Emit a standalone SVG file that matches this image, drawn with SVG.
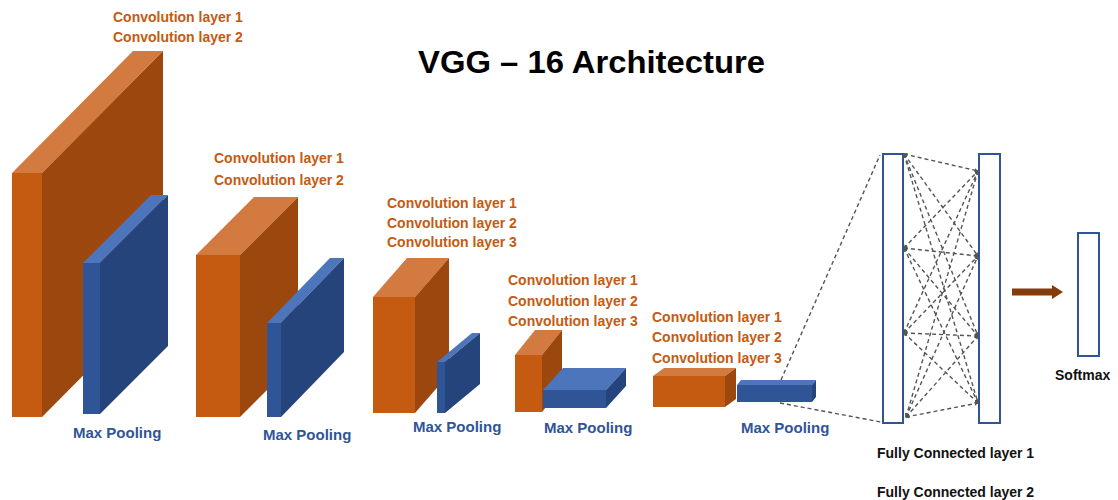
<svg xmlns="http://www.w3.org/2000/svg" width="1118" height="500" viewBox="0 0 1118 500">
  <style>
    .of { fill: #C55A11; }
    .os { fill: #9B470D; }
    .ot { fill: #D27A3F; }
    .bf { fill: #2F5597; }
    .bs { fill: #25447C; }
    .bt { fill: #4C75BC; }
    .conv { font-family: "Liberation Sans", Arial, sans-serif; font-weight: bold; font-size: 14px; fill: #C55A11; }
    .pool { font-family: "Liberation Sans", Arial, sans-serif; font-weight: bold; font-size: 15px; fill: #2F5597; }
    .dark { font-family: "Liberation Sans", Arial, sans-serif; font-weight: bold; font-size: 14px; fill: #111111; }
    .title { font-family: "Liberation Sans", Arial, sans-serif; font-weight: bold; font-size: 32px; fill: #000000; }
    .fc { fill: #ffffff; stroke: #2F5597; stroke-width: 2; }
    .dash { fill: none; stroke: #555555; stroke-width: 1.4; stroke-dasharray: 4 3; }
  </style>
  <defs>
    <marker id="tip" viewBox="0 0 6 6" refX="5" refY="3" markerWidth="3" markerHeight="3" orient="auto-start-reverse">
      <path d="M0,0 L6,3 L0,6 z" fill="#555555"/>
    </marker>
  </defs>
  <rect width="1118" height="500" fill="#ffffff"/>

  <text class="title" x="418" y="73" textLength="347" lengthAdjust="spacingAndGlyphs">VGG – 16 Architecture</text>

  <!-- Stage 1 -->
  <g id="conv-block-1">
    <polygon class="ot" points="12,173 133,51 163,51 42,173"/>
    <polygon class="os" points="42,173 163,51 163,295 42,417"/>
    <rect class="of" x="12" y="173" width="30" height="244"/>
    <text class="conv" x="113" y="22">Convolution layer 1</text>
    <text class="conv" x="113" y="42">Convolution layer 2</text>
  </g>
  <g id="pool-1">
    <polygon class="bt" points="83,263 151,195 168,195 100,263"/>
    <polygon class="bs" points="100,263 168,195 168,346 100,414"/>
    <rect class="bf" x="83" y="263" width="17" height="151"/>
    <text class="pool" x="73" y="438">Max Pooling</text>
  </g>

  <!-- Stage 2 -->
  <g id="conv-block-2">
    <polygon class="ot" points="196,255 254,197 298,197 240,255"/>
    <polygon class="os" points="240,255 298,197 298,359 240,417"/>
    <rect class="of" x="196" y="255" width="44" height="162"/>
    <text class="conv" x="214" y="163">Convolution layer 1</text>
    <text class="conv" x="214" y="185">Convolution layer 2</text>
  </g>
  <g id="pool-2">
    <polygon class="bt" points="267,323 330,258 344,258 281,323"/>
    <polygon class="bs" points="281,323 344,258 344,352 281,417"/>
    <rect class="bf" x="267" y="323" width="14" height="94"/>
    <text class="pool" x="263" y="440">Max Pooling</text>
  </g>

  <!-- Stage 3 -->
  <g id="conv-block-3">
    <polygon class="ot" points="373,297 407,258 449,258 415,297"/>
    <polygon class="os" points="415,297 449,258 449,374 415,413"/>
    <rect class="of" x="373" y="297" width="42" height="116"/>
    <text class="conv" x="387" y="208">Convolution layer 1</text>
    <text class="conv" x="387" y="228">Convolution layer 2</text>
    <text class="conv" x="387" y="247">Convolution layer 3</text>
  </g>
  <g id="pool-3">
    <polygon class="bt" points="437,362 472,333 480,333 445,362"/>
    <polygon class="bs" points="445,362 480,333 480,384 445,413"/>
    <rect class="bf" x="437" y="362" width="8" height="51"/>
    <text class="pool" x="413" y="432">Max Pooling</text>
  </g>

  <!-- Stage 4 -->
  <g id="conv-block-4">
    <polygon class="ot" points="515,355 535,330 562,330 542,355"/>
    <polygon class="os" points="542,355 562,330 562,387 542,412"/>
    <rect class="of" x="515" y="355" width="27" height="57"/>
    <text class="conv" x="508" y="285">Convolution layer 1</text>
    <text class="conv" x="508" y="306">Convolution layer 2</text>
    <text class="conv" x="508" y="326">Convolution layer 3</text>
  </g>
  <g id="pool-4">
    <polygon class="bt" points="543,390 563,368 626,368 606,390"/>
    <polygon class="bs" points="606,390 626,368 626,386 606,408"/>
    <rect class="bf" x="543" y="390" width="63" height="18"/>
    <text class="pool" x="544" y="433">Max Pooling</text>
  </g>

  <!-- Stage 5 -->
  <g id="conv-block-5">
    <polygon class="ot" points="653,376 664,368 736,368 725,376"/>
    <polygon class="os" points="725,376 736,368 736,399 725,407"/>
    <rect class="of" x="653" y="376" width="72" height="31"/>
    <text class="conv" x="652" y="322">Convolution layer 1</text>
    <text class="conv" x="652" y="342">Convolution layer 2</text>
    <text class="conv" x="652" y="363">Convolution layer 3</text>
  </g>
  <g id="pool-5">
    <polygon class="bt" points="737,385 741,380 816,380 812,385"/>
    <polygon class="bs" points="812,385 816,380 816,397 812,402"/>
    <rect class="bf" x="737" y="385" width="75" height="17"/>
    <text class="pool" x="741" y="433">Max Pooling</text>
  </g>

  <!-- Dense layers -->
  <g id="fc-1">
    <rect class="fc" x="883" y="154" width="20" height="269"/>
    <text class="dark" x="877" y="458">Fully Connected layer 1</text>
  </g>
  <g id="fc-2">
    <rect class="fc" x="979" y="154" width="21" height="269"/>
    <text class="dark" x="877" y="497">Fully Connected layer 2</text>
  </g>
  <g id="softmax">
    <rect class="fc" x="1078" y="233" width="21" height="123"/>
    <text class="dark" x="1055" y="380">Softmax</text>
  </g>

  <!-- Connectors -->
  <g id="connectors">
    <line class="dash" x1="781" y1="380" x2="880" y2="155"/>
    <line class="dash" x1="780" y1="403" x2="881" y2="422"/>
    <g marker-start="url(#tip)" marker-end="url(#tip)">
      <line class="dash" x1="904" y1="154" x2="978" y2="171"/>
      <line class="dash" x1="904" y1="154" x2="978" y2="256"/>
      <line class="dash" x1="904" y1="154" x2="978" y2="336"/>
      <line class="dash" x1="904" y1="154" x2="978" y2="403"/>
      <line class="dash" x1="904" y1="248" x2="978" y2="171"/>
      <line class="dash" x1="904" y1="248" x2="978" y2="256"/>
      <line class="dash" x1="904" y1="248" x2="978" y2="336"/>
      <line class="dash" x1="904" y1="248" x2="978" y2="403"/>
      <line class="dash" x1="904" y1="333" x2="978" y2="171"/>
      <line class="dash" x1="904" y1="333" x2="978" y2="256"/>
      <line class="dash" x1="904" y1="333" x2="978" y2="336"/>
      <line class="dash" x1="904" y1="333" x2="978" y2="403"/>
      <line class="dash" x1="906" y1="417" x2="978" y2="171"/>
      <line class="dash" x1="906" y1="417" x2="978" y2="256"/>
      <line class="dash" x1="906" y1="417" x2="978" y2="336"/>
      <line class="dash" x1="906" y1="417" x2="978" y2="403"/>
    </g>
    <polygon fill="#843C0C" points="1012,288.5 1052,288.5 1052,285 1063,292 1052,299 1052,295.5 1012,295.5"/>
  </g>
</svg>
